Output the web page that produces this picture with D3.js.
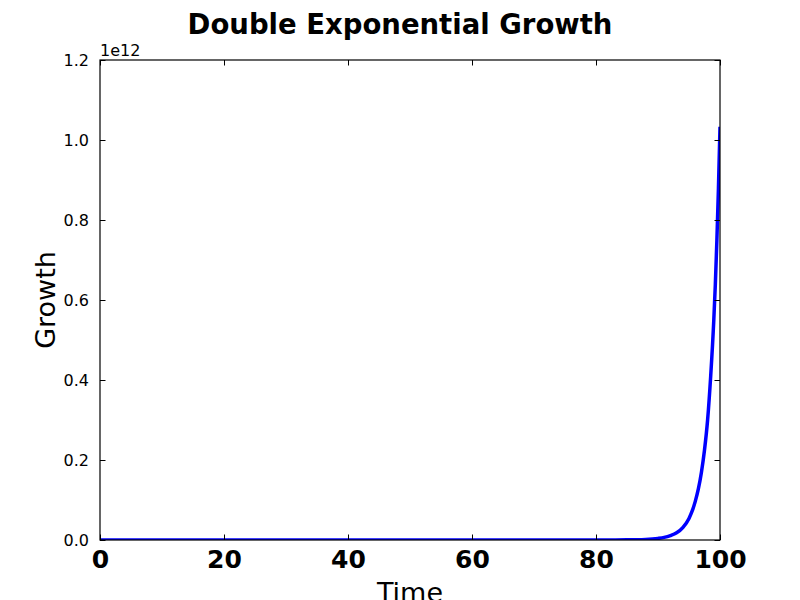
<!DOCTYPE html>
<html>
<head>
<meta charset="utf-8">
<script src="https://cdn.jsdelivr.net/npm/d3@7"></script>
<style>
  html, body { margin: 0; padding: 0; background: #fff; }
  svg { display: block; }
  text { font-family: "DejaVu Sans", sans-serif; }
</style>
</head>
<body>
<svg id="chart" width="800" height="600"></svg>
<script>
// Data
const times = [0, 10, 20, 30, 40, 50, 60, 70, 80, 85, 88, 90, 91, 92, 93, 94, 95, 95.5, 96, 96.5, 97, 97.5, 98, 98.5, 99, 99.25, 99.5, 99.75, 100];
const growth = [0, 0, 0, 0, 0, 0, 0, 0, 5e7, 4e8, 1.5e9, 4e9, 6.5e9, 1.1e10, 1.8e10, 3.1e10, 5.4e10, 7.2e10, 9.6e10, 1.27e11, 1.69e11, 2.25e11, 3.0e11, 4.1e11, 5.5e11, 6.4e11, 7.5e11, 8.8e11, 1.033e12];
const xTicks = [0, 20, 40, 60, 80, 100];
const yTicks = [0, 0.2e12, 0.4e12, 0.6e12, 0.8e12, 1.0e12, 1.2e12];
const titleText = "Double Exponential Growth";
const xLabel = "Time";
const yLabel = "Growth";
const offsetText = "1e12";

const svg = d3.select("#chart");
const L = 100, R = 720, T = 60, B = 540;
const x = d3.scaleLinear().domain([0, 100]).range([L, R]);
const y = d3.scaleLinear().domain([0, 1.2e12]).range([B, T]);

const data = times.map((t, i) => ({ t, v: growth[i] }));

// clip
svg.append("clipPath").attr("id", "clip").append("rect")
  .attr("x", L).attr("y", T).attr("width", R - L).attr("height", B - T);

// line
const line = d3.line().x(d => x(d.t)).y(d => y(d.v)).curve(d3.curveMonotoneX);
svg.append("path").datum(data)
  .attr("clip-path", "url(#clip)")
  .attr("d", line)
  .attr("fill", "none")
  .attr("stroke", "#0000ff")
  .attr("stroke-width", 3.5)
  .attr("stroke-linejoin", "round");

// axes (ticks inward)
const tl = 5.5;
const xb = svg.append("g").attr("transform", `translate(0,${B})`)
  .call(d3.axisBottom(x).tickValues(xTicks).tickSizeInner(-tl).tickSizeOuter(0).tickPadding(10).tickFormat(d3.format("d")));
xb.select(".domain").remove();
xb.selectAll("text").attr("font-size", 25).attr("font-weight", "bold").attr("fill", "#000")
  .attr("font-family", "DejaVu Sans, sans-serif");
const xt = svg.append("g").attr("transform", `translate(0,${T})`)
  .call(d3.axisTop(x).tickValues(xTicks).tickSizeInner(-tl).tickSizeOuter(0).tickFormat(""));
xt.select(".domain").remove();

const yl = svg.append("g").attr("transform", `translate(${L},0)`)
  .call(d3.axisLeft(y).tickValues(yTicks).tickSizeInner(-tl).tickSizeOuter(0).tickPadding(11)
    .tickFormat(d => (d / 1e12).toFixed(1)));
yl.select(".domain").remove();
yl.selectAll("text").attr("font-size", 16).attr("fill", "#000").attr("font-family", "DejaVu Sans, sans-serif");
const yr = svg.append("g").attr("transform", `translate(${R},0)`)
  .call(d3.axisRight(y).tickValues(yTicks).tickSizeInner(-tl).tickSizeOuter(0).tickFormat(""));
yr.select(".domain").remove();

svg.selectAll(".tick line").attr("stroke", "#000").attr("stroke-width", 1);

// frame
svg.append("rect").attr("x", L).attr("y", T).attr("width", R - L).attr("height", B - T)
  .attr("fill", "none").attr("stroke", "#000").attr("stroke-width", 1.2);

// offset text
svg.append("text").attr("x", L).attr("y", 56).attr("font-size", 16).text(offsetText);

// title
svg.append("text").attr("x", 400).attr("y", 33.5).attr("text-anchor", "middle")
  .attr("font-size", 27.5).attr("font-weight", "bold").text(titleText);

// axis labels
svg.append("text").attr("x", 410).attr("y", 602).attr("text-anchor", "middle")
  .attr("font-size", 27).text(xLabel);
svg.append("text").attr("transform", "translate(55,300) rotate(-90)").attr("text-anchor", "middle")
  .attr("font-size", 27).text(yLabel);
</script>
</body>
</html>
